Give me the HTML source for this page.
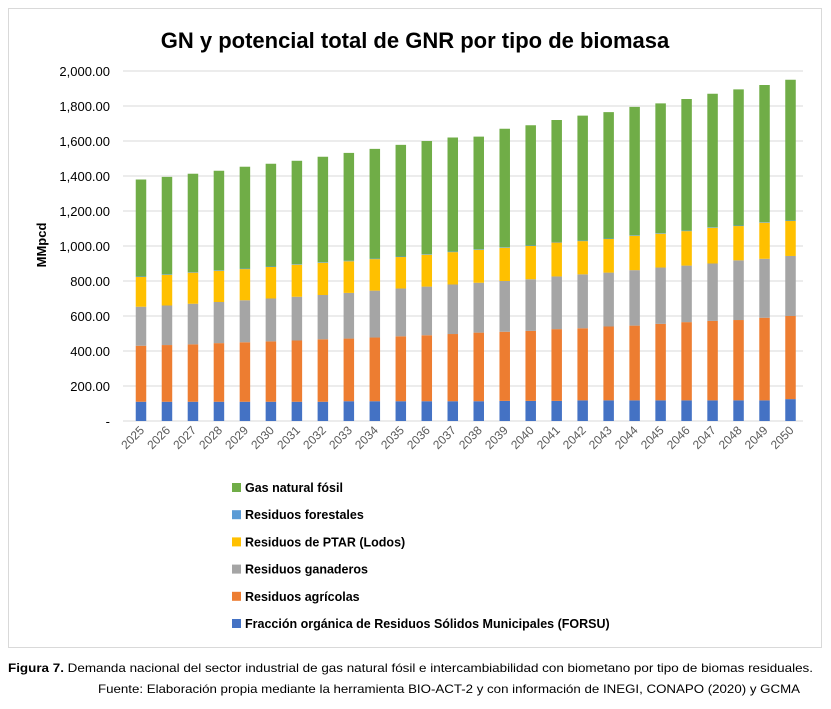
<!DOCTYPE html>
<html><head><meta charset="utf-8"><style>
body{margin:0;background:#fff;}
svg{display:block;font-family:"Liberation Sans",sans-serif;}
</style></head><body>
<svg id="c" width="831" height="709" viewBox="0 0 831 709">
<rect x="8.5" y="8.5" width="813" height="639" fill="#fff" stroke="#d9d9d9"/>
<text x="415" y="48" text-anchor="middle" font-size="22" font-weight="bold" fill="#000">GN y potencial total de GNR por tipo de biomasa</text>
<text transform="translate(46,245) rotate(-90)" text-anchor="middle" font-size="13" font-weight="bold">MMpcd</text>
<g id="grid"></g><g id="bars"></g><g id="xl"></g><g id="leg"></g>
<text x="8" y="672" font-size="12" textLength="805" lengthAdjust="spacingAndGlyphs"><tspan font-weight="bold">Figura 7.</tspan> Demanda nacional del sector industrial de gas natural fósil e intercambiabilidad con biometano por tipo de biomas residuales.</text>
<text x="98" y="693" font-size="12" textLength="702" lengthAdjust="spacingAndGlyphs">Fuente: Elaboración propia mediante la herramienta BIO-ACT-2 y con información de INEGI, CONAPO (2020) y GCMA</text>
</svg>
<script>
const years=[2025,2026,2027,2028,2029,2030,2031,2032,2033,2034,2035,2036,2037,2038,2039,2040,2041,2042,2043,2044,2045,2046,2047,2048,2049,2050];
const forsu=[110,110,110,110,110,110,110,110,113,113,113,113,113,113,115,115,115,118,118,118,118,118,118,118,118,125];
const agricolas=[320,324,328,335,340,345,350,357,358,364,371,377,384,392,395,400,410,412,422,427,437,447,454,459,472,475];
const ganaderos=[223,226,232,235,240,245,250,253,261,268,273,278,283,285,290,295,301,308,308,317,322,323,328,341,337,343];
const ptar=[170,175,178,178,178,180,183,184,181,180,180,182,185,188,190,190,194,190,192,196,193,197,204,196,206,200];
const forestales=[3,3,3,3,3,3,3,3,3,3,3,3,3,3,3,3,3,3,3,3,3,3,3,3,3,3];
const gasFosil=[554,557,562,569,582,587,591,603,616,627,638,647,652,644,677,687,697,714,722,734,742,752,763,778,784,804];
const yTicks=[0,200,400,600,800,1000,1200,1400,1600,1800,2000];
const yTickLabels=["-","200.00","400.00","600.00","800.00","1,000.00","1,200.00","1,400.00","1,600.00","1,800.00","2,000.00"];
const seriesNames=["Fracción orgánica de Residuos Sólidos Municipales (FORSU)","Residuos agrícolas","Residuos ganaderos","Residuos de PTAR (Lodos)","Residuos forestales","Gas natural fósil"];
const seriesKeys=["forsu","agricolas","ganaderos","ptar","forestales","gas-fosil"];
const colors=["#4472c4","#ed7d31","#a5a5a5","#ffc000","#5b9bd5","#70ad47"];
const series=[forsu,agricolas,ganaderos,ptar,forestales,gasFosil];
const NS="http://www.w3.org/2000/svg";
const gx0=123,gx1=803,x0=128,x1=803.5,yb=421,yt=71,ymax=2000;
const y=v=>yb-(v/ymax)*(yb-yt);
const band=(x1-x0)/years.length,bw=10.5;
const xc=i=>x0+band*(i+0.5);
function mk(t,a,p){const e=document.createElementNS(NS,t);for(const k in a)e.setAttribute(k,a[k]);p.appendChild(e);return e;}
const grid=document.getElementById('grid');
yTicks.forEach((t,i)=>{
 if(i>0){const l=mk('line',{x1:gx0,x2:gx1,y1:y(t),y2:y(t),stroke:'#d9d9d9','stroke-width':1},grid);
 
 }
 const tx=mk('text',{x:110,y:y(t)+5,'text-anchor':'end','font-size':13,fill:'#000'},grid);
 tx.textContent=yTickLabels[i];
 
 
});
const ax=mk('line',{x1:gx0,x2:gx1,y1:yb,y2:yb,stroke:'#d9d9d9'},grid);


const bars=document.getElementById('bars'),xl=document.getElementById('xl');
years.forEach((yr,i)=>{
 let acc=0;
 series.forEach((s,k)=>{
  const r=mk('rect',{x:xc(i)-bw/2,y:y(acc+s[i]),width:bw,height:y(acc)-y(acc+s[i]),fill:colors[k]},bars);
  
  
  acc+=s[i];
 });
 const t=mk('text',{transform:`translate(${xc(i)+4},${yb+10}) rotate(-45)`,'text-anchor':'end','font-size':12,fill:'#595959'},xl);
 t.textContent=yr;
 
 
});
const leg=document.getElementById('leg');
for(let k=5;k>=0;k--){
 const row=5-k,yy=488+row*27.2;
 const g=mk('g',{},leg);
 
 
 mk('rect',{x:232,y:yy-5,width:9,height:9,fill:colors[k]},g);
 const t=mk('text',{x:245,y:yy+4,'font-size':12.5,'font-weight':'bold'},g);
 t.textContent=seriesNames[k];
}
</script>
</body></html>
